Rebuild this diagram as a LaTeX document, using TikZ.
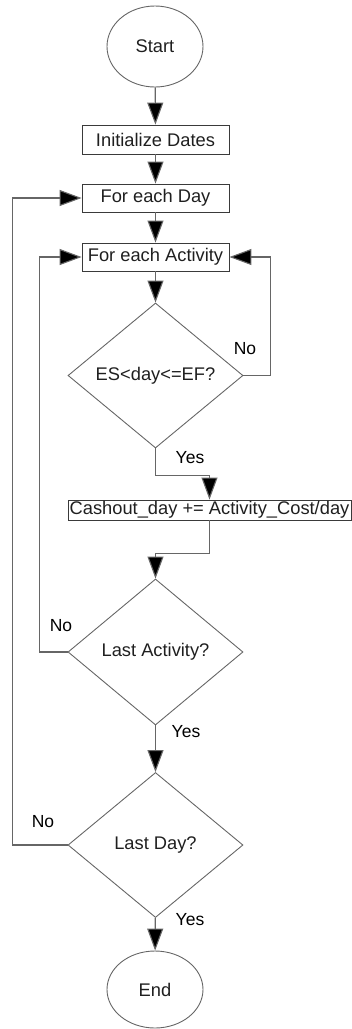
\documentclass[tikz,border=0pt]{standalone}
\usepackage{fontspec}
\setmainfont{Liberation Sans}
\usetikzlibrary{shapes.geometric,arrows.meta}
\definecolor{edge}{HTML}{666666}
\definecolor{frame}{HTML}{3a3a3a}
\tikzset{
  base/.style={draw=frame, line width=0.9pt, inner sep=0pt, font=\fontsize{18.3}{21}\selectfont, text=black!88},
  term/.style={base, draw=edge, ellipse, minimum width=96pt},
  procbox/.style={base, rectangle, minimum width=147pt, minimum height=28pt},
  decide/.style={base, draw=edge, diamond, minimum width=175pt, minimum height=145pt},
  flow/.style={draw=edge, line width=1.1pt, -{Triangle[length=22pt,width=16pt,fill=black]}},
  tag/.style={font=\fontsize{17.5}{20}\selectfont, text=black}
}
\begin{document}
\begin{tikzpicture}[x=1pt,y=-1pt]
\useasboundingbox (0,0) rectangle (352,1029);
\node[term, minimum height=81pt] (start) at (155,46.5) {Start};
\node[procbox, minimum height=29pt] (init) at (155.5,139.5) {Initialize Dates};
\node[procbox] (day) at (155.5,198) {For each Day};
\node[procbox] (act) at (155.5,257) {For each Activity};
\node[decide] (es) at (155.5,375.5) {ES<day<=EF?};
\node[base, rectangle, minimum width=283pt, minimum height=20pt] (cash) at (209.5,510) {Cashout\_day += Activity\_Cost/day};
\node[decide, minimum height=146pt] (la) at (155.5,652) {Last Activity?};
\node[decide] (ld) at (155.5,845) {Last Day?};
\node[term, minimum height=77pt] (end) at (155,989.5) {End};

\draw[flow] (start) -- (init);
\draw[flow] (init) -- (day);
\draw[flow] (day) -- (act);
\draw[flow] (act) -- (es);
\draw[flow] (es.south) -- ++(0,27) -| (cash.north);
\draw[flow] (es.east) -- ++(27,0) |- (act.east);
\draw[flow] (cash.south) -- ++(0,33) -| (la.north);
\draw[flow] (la.west) -- ++(-28,0) |- (act.west);
\draw[flow] (la) -- (ld);
\draw[flow] (ld.west) -- ++(-55,0) |- (day.west);
\draw[flow] (ld) -- (end);

\node[tag] (no1) at (245,349) {No};
\node[tag] (yes1) at (190,458) {Yes};
\node[tag] (no2) at (61,626) {No};
\node[tag] (yes2) at (186,732) {Yes};
\node[tag] (no3) at (43,822) {No};
\node[tag] (yes3) at (190,920) {Yes};
\end{tikzpicture}
\end{document}
